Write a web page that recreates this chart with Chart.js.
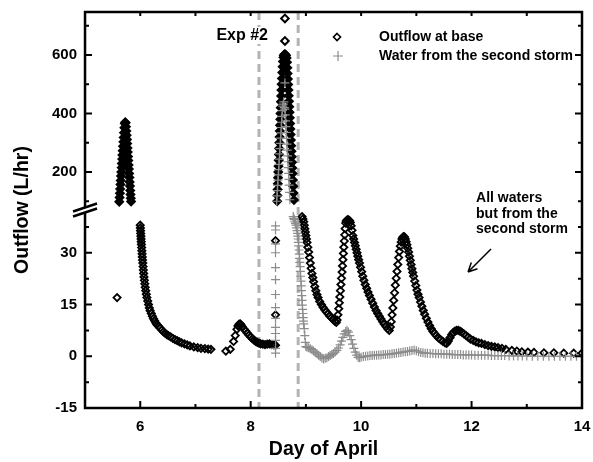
<!DOCTYPE html>
<html>
<head>
<meta charset="utf-8">
<script src="https://cdn.jsdelivr.net/npm/chart.js@4/dist/chart.umd.min.js"></script>
<style>
  html, body { margin: 0; padding: 0; background: #fff; }
  #wrap { width: 593px; height: 462px; }
</style>
</head>
<body>
<div id="wrap"><canvas id="myGraph"></canvas></div>
<script>
// Outflow at base (black diamonds)
var baseDay = [
  5.58,
  5.62,5.626,5.632,5.637,5.642,5.647,5.652,5.657,5.662,5.667,5.672,5.677,5.682,5.688,5.694,5.700,5.706,5.713,5.72,
  5.728,5.735,
  5.742,5.748,5.754,5.759,5.764,5.769,5.774,5.779,5.784,5.789,5.794,5.799,5.804,5.809,5.814,5.819,5.824,5.829,5.834,
  6.00,6.003,6.006,6.009,6.012,6.015,6.018,6.021,6.025,6.029,6.033,6.037,6.041,6.046,6.051,6.056,6.062,6.068,6.075,6.082,6.09,6.10,6.11,6.12,6.135,6.15,6.165,6.18,6.20,6.22,6.24,6.26,6.28,6.30,6.33,6.36,6.39,6.42,6.45,6.48,6.51,6.55,6.59,6.63,6.67,6.71,6.75,6.80,6.85,6.90,6.97,7.04,7.10,7.17,7.23,7.28,
  7.55,7.63,7.69,7.72,7.75,7.77,7.79,7.81,7.83,7.85,7.88,7.91,7.94,7.97,8.00,8.03,8.06,8.09,8.12,8.15,8.18,8.22,8.26,8.30,8.34,8.38,8.42,8.45,
  8.45,8.45,
  8.480,8.484,8.488,8.492,8.496,8.500,8.504,8.508,8.512,8.516,8.520,8.524,8.528,8.532,8.536,8.540,8.544,8.548,8.552,8.556,8.561,8.566,8.572,8.578,8.585,8.593,
  8.60,8.61,8.62,8.63,8.64,8.65,
  8.62,8.62,
  8.658,8.664,8.669,8.674,8.679,8.684,8.689,8.694,8.699,8.704,8.709,8.714,8.719,8.724,8.729,8.734,8.739,8.744,8.749,8.754,8.759,8.765,8.771,8.777,8.784,
  8.93,8.945,8.96,8.97,8.98,8.99,9.00,9.01,9.02,9.035,9.05,9.065,9.08,9.095,9.11,9.125,9.14,9.16,9.18,9.20,9.22,9.25,9.28,9.31,9.34,9.37,9.40,9.43,9.46,9.49,9.52,9.55,
  9.565,9.58,9.595,9.605,9.615,9.625,9.635,9.645,9.655,9.663,9.671,9.679,9.687,9.695,9.703,9.711,9.72,
  9.73,9.745,9.76,9.775,9.79,9.805,9.82,9.835,
  9.85,9.865,9.88,9.895,9.91,9.925,9.94,9.955,9.97,9.99,10.01,10.03,10.05,10.075,10.10,10.125,10.15,10.18,10.21,10.24,10.27,10.30,10.33,10.36,10.39,10.42,10.45,10.48,10.51,
  10.53,10.545,10.56,10.575,10.59,10.605,10.62,10.635,10.65,10.665,10.68,10.695,10.71,10.725,10.74,10.755,10.77,10.785,
  10.80,10.815,10.83,10.845,10.86,10.875,10.89,10.905,10.92,10.935,10.95,10.97,10.99,11.01,11.03,11.05,11.075,11.10,11.125,11.15,11.18,11.21,11.24,11.27,11.30,11.33,11.36,11.40,11.44,11.48,11.52,11.55,
  11.58,11.61,11.64,11.67,11.70,11.73,11.76,11.79,11.82,11.86,11.90,11.94,11.98,12.03,12.08,12.13,12.18,12.24,12.30,12.36,12.42,12.48,12.55,12.62,12.73,12.82,12.91,13.02,13.13,13.31,13.49,13.67,13.85,14.0
];
var baseFlow = [
  17,
  98,113,127,142,157,171,186,200,215,229,244,258,273,288,303,318,334,351,366,
  370,368,
  355,340,326,311,297,282,268,253,239,224,210,195,181,166,152,137,123,110,99,
  38,37.2,36.4,35.6,34.8,34,33.2,32.4,31.5,30.6,29.7,28.8,27.9,27,26,25,24,23,22,21,20,19,18,17,16,15,14,13.2,12.4,11.6,10.9,10.3,9.7,9.2,8.7,8.2,7.6,7.1,6.7,6.3,6.0,5.6,5.2,4.8,4.5,4.2,3.9,3.6,3.3,3.0,2.7,2.5,2.3,2.2,2.1,2.0,
  1.5,2.0,4.3,6.0,7.8,8.8,9.3,9.4,9.0,8.5,7.9,7.3,6.7,6.1,5.6,5.1,4.7,4.3,4.0,3.8,3.6,3.5,3.4,3.5,3.6,3.4,3.3,3.2,
  12,33.5,
  100,120,140,160,180,200,220,240,260,280,300,320,340,360,380,400,420,440,460,480,500,520,540,560,578,592,
  598,602,603,601,598,590,
  725,648,
  575,556,537,518,499,480,461,442,423,404,385,366,347,328,309,290,271,252,233,214,195,173,151,128,104,
  40.5,39.8,39.0,38.0,37.0,36.0,35.0,34.0,33.0,31.6,30.2,28.6,27.0,25.5,24.0,22.8,21.6,20.2,19.0,17.9,17.0,15.9,15.0,14.2,13.5,12.9,12.3,11.7,11.2,10.7,10.2,9.8,
  10.5,12.0,13.8,15.5,17.2,19.0,20.8,22.6,24.4,26.2,28.0,29.8,31.6,33.4,35.2,37.0,38.6,
  39.2,39.5,39.6,39.5,39.3,38.8,37.8,36.5,
  35.0,34.0,33.0,32.0,31.0,30.0,29.0,28.0,27.0,25.8,24.5,23.2,22.0,20.8,19.7,18.6,17.6,16.5,15.4,14.3,13.3,12.4,11.6,10.8,10.0,9.3,8.6,8.0,7.5,
  8.5,10.0,12.0,14.0,16.2,18.4,20.6,22.6,24.6,26.6,28.6,30.4,31.9,33.1,34.0,34.5,34.7,34.6,
  34.0,33.2,32.3,31.3,30.2,29.0,27.8,26.6,25.4,24.3,23.2,21.8,20.5,19.2,18.0,17.0,15.7,14.5,13.3,12.2,11.0,9.9,8.9,8.0,7.2,6.6,6.0,5.3,4.8,4.3,3.9,3.7,
  4.4,5.4,6.3,6.9,7.3,7.5,7.5,7.3,7.0,6.5,6.0,5.5,5.0,4.6,4.2,3.9,3.7,3.4,3.1,2.9,2.7,2.5,2.3,2.0,1.7,1.5,1.3,1.2,1.1,1.0,1.0,0.9,0.9,0.9
];

// Water from the second storm (grey crosses)
var stormDay = [
  8.45,8.45,8.45,8.45,8.45,8.45,8.45,8.45,8.45,8.45,8.45,8.45,8.45,8.45,
  8.47,8.476,8.482,8.488,8.494,8.50,8.506,8.512,8.518,8.524,8.53,8.536,8.542,8.548,8.554,8.56,8.566,8.572,
  8.58,8.59,8.60,8.62,8.61,
  8.62,8.626,8.632,8.638,8.644,8.65,8.656,8.662,8.668,8.674,8.68,8.686,8.692,8.698,8.704,8.71,
  8.77,8.78,8.79,8.80,8.81,8.82,8.83,8.84,8.85,8.855,8.86,8.865,8.87,8.875,8.88,8.885,8.89,8.895,8.90,8.905,8.91,8.915,8.92,8.925,8.93,8.935,8.94,8.945,8.95,8.955,8.96,8.97,8.98,8.99,9.00,
  9.02,9.05,9.08,9.11,9.14,9.17,9.20,9.23,9.26,9.29,9.32,9.35,9.38,9.41,9.44,9.47,9.50,9.53,9.56,9.59,9.62,9.645,9.67,9.695,9.72,9.745,9.77,9.795,9.82,9.845,9.87,9.895,9.92,9.945,9.97,
  10.0,10.04,10.08,10.12,10.16,10.2,10.24,10.28,10.32,10.36,10.4,10.44,10.48,10.52,10.56,10.6,10.64,10.68,10.72,10.76,10.8,10.84,10.88,10.92,10.96,11.0,11.04,11.08,11.12,11.16,11.2,11.25,11.3,11.35,11.4,11.45,11.5,11.55,11.6,11.65,11.7,11.75,11.8,11.85,11.9,11.95,12.0,12.06,12.12,12.18,12.24,12.3,12.36,12.42,12.48,12.54,12.6,12.68,12.76,12.84,12.92,13.0,13.1,13.2,13.3,13.4,13.5,13.6,13.7,13.8,13.9,14.0
];
var stormFlow = [
  37.8,36.6,32.6,30.0,25.7,22.2,17.9,14.1,11.0,8.4,6.6,4.6,2.3,0.9,
  100,118,136,154,172,190,208,226,244,262,280,298,316,334,352,370,390,410,
  425,432,440,505,420,
  415,395,375,355,335,315,295,275,255,235,215,195,175,155,130,105,
  40.5,40.0,39.6,39.0,38.5,38.0,37.2,36.4,35.6,34.8,34.0,33.0,32.0,30.8,29.6,28.4,27.2,26.0,24.6,23.2,21.8,20.4,19.0,17.6,16.2,14.8,13.6,12.4,11.2,10.2,9.4,8.0,6.0,4.0,2.8,
  2.6,2.5,2.2,1.9,1.5,1.1,0.7,0.3,-0.1,-0.5,-0.7,-0.6,-0.4,-0.1,0.2,0.5,0.8,1.2,1.7,2.4,3.3,4.4,5.5,6.5,7.2,7.5,7.0,6.0,4.8,3.5,2.3,1.2,0.3,-0.3,-0.4,
  -0.3,-0.1,0.0,0.1,0.2,0.2,0.3,0.3,0.4,0.4,0.5,0.5,0.6,0.6,0.7,0.8,0.9,1.0,1.1,1.2,1.3,1.4,1.5,1.7,1.8,1.6,1.3,1.1,1.0,0.9,0.9,0.8,0.8,0.7,0.7,0.7,0.6,0.6,0.6,0.5,0.5,0.5,0.5,0.4,0.4,0.4,0.4,0.3,0.3,0.3,0.3,0.3,0.2,0.2,0.2,0.2,0.2,0.1,0.1,0.1,0.1,0.1,0.0,0.0,0.0,0.0,0.0,0.0,0.0,0.0,0.0,0.0
];

var xLabels = [6, 8, 10, 12, 14];
var lowLabels = [-15, 0, 15, 30];
var highLabels = [200, 400, 600];
var expLines = [8.15, 8.86];
var breakValue = 70; // flows at or above this sit on the upper (broken) axis

document.addEventListener("DOMContentLoaded", function(){
  makeChart();
});

function splitPoints(days, flows, upper){
  var n = Math.min(days.length, flows.length);
  var pts = [];
  for (var i = 0; i < n; i++) {
    var isUp = flows[i] >= breakValue;
    if (isUp === upper) pts.push({x: days[i], y: flows[i]});
  }
  return pts;
}

var FONT = "'Liberation Sans', Arial, sans-serif";

var decor = {
  id: "decor",
  beforeDatasetsDraw: function(chart){
    var ctx = chart.ctx, a = chart.chartArea, xs = chart.scales.x;
    ctx.save();
    ctx.strokeStyle = "#b3b3b3";
    ctx.lineWidth = 3;
    ctx.setLineDash([8, 5]);
    expLines.forEach(function(d){
      var px = xs.getPixelForValue(d);
      ctx.beginPath();
      ctx.moveTo(px, a.top);
      ctx.lineTo(px, a.bottom);
      ctx.stroke();
    });
    ctx.restore();
  },
  afterDraw: function(chart){
    var ctx = chart.ctx, a = chart.chartArea;
    var xs = chart.scales.x, yl = chart.scales.yLow, yh = chart.scales.yHigh;
    ctx.save();

    // frame
    ctx.strokeStyle = "#000";
    ctx.lineWidth = 2.5;
    ctx.strokeRect(a.left, a.top, a.right - a.left, a.bottom - a.top);

    // inward ticks
    ctx.lineWidth = 2;
    ctx.beginPath();
    xs.ticks.forEach(function(t){
      var px = xs.getPixelForValue(t.value);
      if (px <= a.left + 1 || px >= a.right - 1) return;
      var len = xLabels.indexOf(t.value) >= 0 ? 7 : 4;
      ctx.moveTo(px, a.bottom); ctx.lineTo(px, a.bottom - len);
      ctx.moveTo(px, a.top); ctx.lineTo(px, a.top + 4);
    });
    [[yl, lowLabels], [yh, highLabels]].forEach(function(pair){
      var sc = pair[0], labs = pair[1];
      sc.ticks.forEach(function(t){
        var py = sc.getPixelForValue(t.value);
        if (py <= a.top + 1 || py >= a.bottom - 1) return;
        var len = labs.indexOf(t.value) >= 0 ? 7 : 4;
        ctx.moveTo(a.left, py); ctx.lineTo(a.left + len, py);
        ctx.moveTo(a.right, py); ctx.lineTo(a.right - len, py);
      });
    });
    ctx.stroke();

    // axis break marker
    var yb = yl.top;
    ctx.fillStyle = "#fff";
    ctx.beginPath();
    ctx.moveTo(a.left - 12, yb + 1.5);
    ctx.lineTo(a.left + 12, yb - 6.5);
    ctx.lineTo(a.left + 12, yb - 1.5);
    ctx.lineTo(a.left - 12, yb + 6.5);
    ctx.closePath();
    ctx.fill();
    ctx.lineWidth = 2.5;
    ctx.beginPath();
    ctx.moveTo(a.left - 12, yb + 1.5); ctx.lineTo(a.left + 12, yb - 6.5);
    ctx.moveTo(a.left - 12, yb + 6.5); ctx.lineTo(a.left + 12, yb - 1.5);
    ctx.stroke();

    // axis titles
    ctx.fillStyle = "#000";
    ctx.font = "bold 19.5px " + FONT;
    ctx.textAlign = "center";
    ctx.textBaseline = "middle";
    ctx.fillText("Day of April", (a.left + a.right) / 2 - 10, a.bottom + 42);
    ctx.save();
    ctx.translate(23, (a.top + a.bottom) / 2);
    ctx.rotate(-Math.PI / 2);
    ctx.fillText("Outflow (L/hr)", 0, 0);
    ctx.restore();

    // Exp #2 label
    var lx = xs.getPixelForValue(expLines[0]) + 9;
    ctx.font = "bold 16px " + FONT;
    var w = ctx.measureText("Exp #2").width;
    ctx.fillStyle = "#fff";
    ctx.fillRect(lx - w - 1, a.top + 15, w + 2, 17);
    ctx.fillStyle = "#000";
    ctx.textAlign = "right";
    ctx.fillText("Exp #2", lx, a.top + 24);

    // legend
    var gx = a.left + 252;
    ctx.font = "bold 14px " + FONT;
    ctx.textAlign = "left";
    ctx.strokeStyle = "#000";
    ctx.lineWidth = 1.6;
    ctx.beginPath();
    ctx.moveTo(gx, a.top + 21.5); ctx.lineTo(gx + 3.5, a.top + 25);
    ctx.lineTo(gx, a.top + 28.5); ctx.lineTo(gx - 3.5, a.top + 25);
    ctx.closePath();
    ctx.stroke();
    ctx.strokeStyle = "#8c8c8c";
    ctx.lineWidth = 1.2;
    ctx.beginPath();
    ctx.moveTo(gx + 1, a.top + 39); ctx.lineTo(gx + 1, a.top + 49);
    ctx.moveTo(gx - 4, a.top + 44); ctx.lineTo(gx + 6, a.top + 44);
    ctx.stroke();
    ctx.fillStyle = "#000";
    ctx.fillText(chart.data.datasets[2].label, a.left + 294, a.top + 25);
    ctx.fillText(chart.data.datasets[0].label, a.left + 294, a.top + 44);

    // annotation and arrow
    var tx = a.left + 391;
    ctx.fillText("All waters", tx, a.top + 186);
    ctx.fillText("but from the", tx, a.top + 202);
    ctx.fillText("second storm", tx, a.top + 217);
    var x0 = a.left + 406, y0 = a.top + 237, x1 = a.left + 383, y1 = a.top + 260;
    ctx.strokeStyle = "#000";
    ctx.lineWidth = 1.5;
    ctx.beginPath();
    ctx.moveTo(x0, y0); ctx.lineTo(x1, y1);
    var ang = Math.atan2(y1 - y0, x1 - x0);
    ctx.moveTo(x1, y1); ctx.lineTo(x1 - 10 * Math.cos(ang - 0.45), y1 - 10 * Math.sin(ang - 0.45));
    ctx.moveTo(x1, y1); ctx.lineTo(x1 - 10 * Math.cos(ang + 0.45), y1 - 10 * Math.sin(ang + 0.45));
    ctx.stroke();

    ctx.restore();
  }
};

function noEdgePadding(scale){
  scale.paddingTop = 0;
  scale.paddingBottom = 0;
  scale.paddingLeft = 0;
  scale.paddingRight = 0;
}

// the spike bodies are so dense in the original that they read as solid black;
// only the two stray readings above them stay open
function spikeFill(c){
  return c.raw && c.raw.y < 640 ? "#000" : "rgba(255,255,255,0)";
}

function makeChart(){
  let target = document.getElementById("myGraph");
  Chart.defaults.font.family = FONT;
  Chart.defaults.color = "#000";

  var tickFont = {size: 15, weight: "bold"};
  var grey = "#8c8c8c";

  new Chart(target, {
    type: "scatter",
    data: {
      datasets: [
        {label: "Water from the second storm", data: splitPoints(stormDay, stormFlow, false), yAxisID: "yLow",
         pointStyle: "cross", pointRadius: 4.5, borderColor: grey, backgroundColor: grey, borderWidth: 1.2},
        {label: "Water from the second storm", data: splitPoints(stormDay, stormFlow, true), yAxisID: "yHigh",
         pointStyle: "cross", pointRadius: 4.5, borderColor: grey, backgroundColor: grey, borderWidth: 1.2},
        {label: "Outflow at base", data: splitPoints(baseDay, baseFlow, false), yAxisID: "yLow",
         pointStyle: "rectRot", pointRadius: 3.6, borderColor: "#000", backgroundColor: "rgba(255,255,255,0)", borderWidth: 1.8},
        {label: "Outflow at base", data: splitPoints(baseDay, baseFlow, true), yAxisID: "yHigh",
         pointStyle: "rectRot", pointRadius: 3.8, borderColor: "#000", backgroundColor: spikeFill, borderWidth: 2}
      ]
    },
    options: {
      responsive: true,
      maintainAspectRatio: false,
      animation: false,
      events: [],
      layout: {padding: {left: 44, right: 11, top: 12, bottom: 16}},
      plugins: {
        legend: {display: false},
        tooltip: {enabled: false}
      },
      scales: {
        x: {
          type: "linear", min: 5, max: 14,
          grid: {display: false, drawTicks: false},
          border: {display: false},
          afterFit: noEdgePadding,
          ticks: {
            stepSize: 1, autoSkip: false, maxRotation: 0, padding: 10, font: tickFont,
            callback: function(v){ return xLabels.indexOf(v) >= 0 ? String(v) : ""; }
          }
        },
        yLow: {
          type: "linear", position: "left", stack: "flow", stackWeight: 1,
          min: -15, max: 42.4,
          grid: {display: false, drawTicks: false},
          border: {display: false},
          afterFit: noEdgePadding,
          ticks: {
            stepSize: 7.5, autoSkip: false, includeBounds: false, padding: 8, font: tickFont,
            callback: function(v){ return lowLabels.indexOf(v) >= 0 ? String(v) : ""; }
          }
        },
        yHigh: {
          type: "linear", position: "left", stack: "flow", stackWeight: 1,
          min: 70, max: 747,
          grid: {display: false, drawTicks: false},
          border: {display: false},
          afterFit: noEdgePadding,
          ticks: {
            stepSize: 100, autoSkip: false, includeBounds: false, padding: 8, font: tickFont,
            callback: function(v){ return highLabels.indexOf(v) >= 0 ? String(v) : ""; }
          }
        }
      }
    },
    plugins: [decor]
  });
}
</script>
</body>
</html>
